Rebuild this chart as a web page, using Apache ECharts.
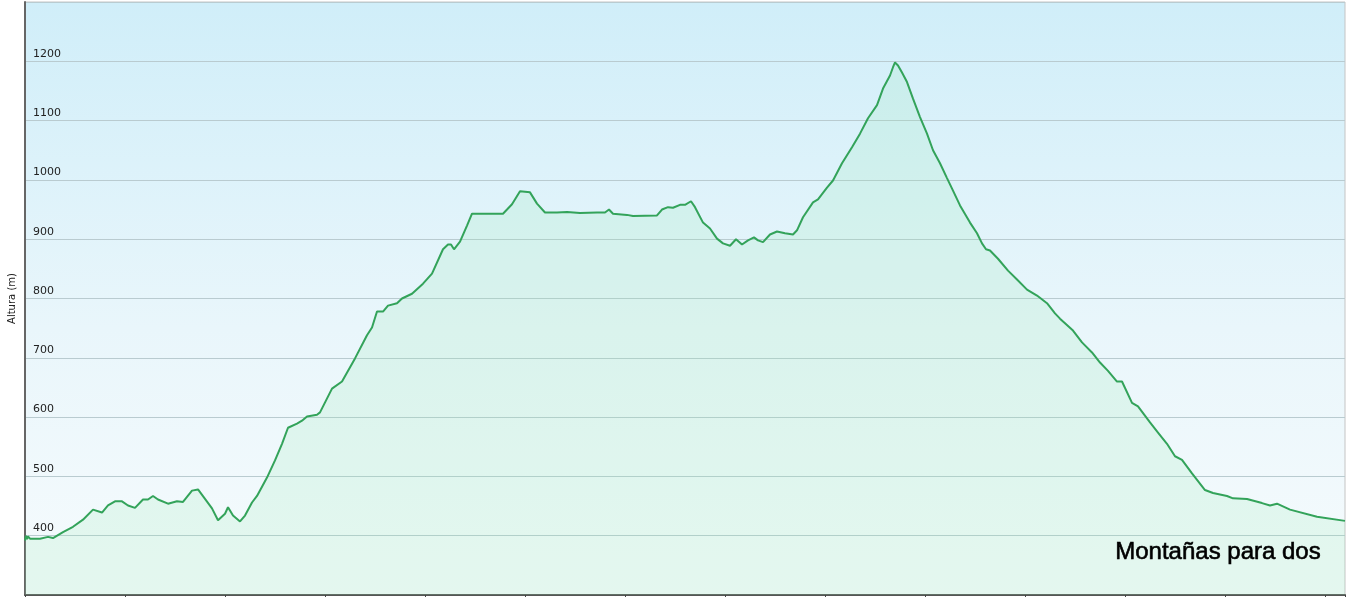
<!DOCTYPE html>
<html>
<head>
<meta charset="utf-8">
<script src="https://cdn.jsdelivr.net/npm/echarts@6/dist/echarts.min.js"></script>
<style>
html,body{margin:0;padding:0;background:#fff;}
#chart{width:1354px;height:597px;}
</style>
</head>
<body>
<div id="chart"></div>
<script>
const distancia = [0,0.01,0.02,0.03,0.05,0.15,0.23,0.28,0.38,0.48,0.58,0.68,0.77,0.83,0.90,0.97,1.03,1.10,1.18,1.23,1.28,1.33,1.43,1.52,1.58,1.67,1.73,1.80,1.87,1.93,2.00,2.03,2.08,2.15,2.20,2.27,2.32,2.42,2.50,2.57,2.63,2.72,2.77,2.82,2.92,2.95,3.07,3.17,3.30,3.42,3.47,3.52,3.58,3.63,3.72,3.77,3.87,3.98,4.07,4.18,4.23,4.26,4.29,4.35,4.42,4.47,4.52,4.78,4.82,4.87,4.95,5.05,5.12,5.20,5.32,5.42,5.55,5.72,5.80,5.84,5.88,6.02,6.08,6.32,6.37,6.43,6.48,6.55,6.60,6.66,6.70,6.78,6.85,6.92,6.98,7.05,7.11,7.17,7.23,7.29,7.33,7.38,7.45,7.52,7.60,7.68,7.72,7.78,7.88,7.93,8.02,8.08,8.17,8.27,8.35,8.43,8.52,8.58,8.65,8.68,8.70,8.73,8.77,8.82,8.88,8.95,9.02,9.08,9.15,9.22,9.28,9.35,9.45,9.52,9.57,9.61,9.65,9.73,9.83,9.92,10.02,10.12,10.22,10.30,10.35,10.48,10.57,10.67,10.75,10.83,10.92,10.97,11.07,11.13,11.25,11.33,11.42,11.50,11.57,11.67,11.80,11.88,12.02,12.08,12.22,12.37,12.45,12.52,12.65,12.92,13.20];
const altura = [392,400,394,399,395,395,398,396,406,415,427,444,439,451,458,458,451,447,461,461,467,461,454,458,457,476,478,462,446,426,437,448,434,424,434,456,467,498,527,555,582,589,594,601,604,608,648,660,699,738,751,778,778,788,792,800,808,825,842,883,891,891,883,896,923,943,943,943,950,959,981,979,960,945,945,946,944,945,945,950,943,941,939,940,950,954,953,958,958,964,954,928,918,901,893,889,900,891,898,903,898,895,908,913,910,908,915,937,962,967,987,999,1028,1055,1078,1104,1126,1154,1176,1190,1198,1193,1181,1165,1137,1106,1078,1050,1028,1003,982,957,928,910,893,883,881,867,847,832,815,805,792,775,766,746,726,709,692,678,660,660,624,618,591,574,555,534,528,505,477,472,467,463,462,455,451,454,444,432,425];
const yTicks = [400,500,600,700,800,900,1000,1100,1200];
const yAxisName = 'Altura (m)';
const watermark = 'Montañas para dos';

const data = distancia.map((d, i) => [d, altura[i]]);

const chart = echarts.init(document.getElementById('chart'), null, {renderer: 'canvas'});
chart.setOption({
  animation: false,
  backgroundColor: '#ffffff',
  grid: {
    left: 25, right: 9, top: 2, bottom: 2,
    containLabel: false,
    outerBoundsMode: 'none',
    show: true,
    borderColor: '#c4c4c4',
    borderWidth: 1,
    backgroundColor: {
      type: 'linear', x: 0, y: 0, x2: 0, y2: 1,
      colorStops: [
        {offset: 0, color: '#d0eef9'},
        {offset: 0.55, color: '#e9f6fb'},
        {offset: 1, color: '#f6fbfd'}
      ]
    }
  },
  xAxis: {
    type: 'value',
    min: 0, max: 13.2, interval: 1,
    axisLine: {show: true, lineStyle: {color: '#555', width: 2}},
    axisTick: {show: true, length: 3, lineStyle: {color: '#444'}},
    axisLabel: {show: false},
    splitLine: {show: false}
  },
  yAxis: {
    type: 'value',
    min: 300, max: 1300, interval: 100,
    name: yAxisName,
    nameLocation: 'middle',
    nameGap: 4,
    nameTextStyle: {fontFamily: 'DejaVu Sans', fontSize: 10, color: '#222'},
    axisLine: {show: true, lineStyle: {color: '#666', width: 2}},
    axisTick: {show: false},
    axisLabel: {
      inside: true,
      margin: 8,
      verticalAlign: 'bottom',
      padding: [0, 0, 2, 0],
      fontFamily: 'DejaVu Sans',
      fontSize: 11,
      color: '#222',
      formatter: v => (yTicks.indexOf(v) >= 0 ? String(v) : '')
    },
    splitLine: {show: true, lineStyle: {color: '#b9cbd0', width: 1}}
  },
  series: [{
    type: 'line',
    data: data,
    showSymbol: false,
    smooth: false,
    lineStyle: {color: '#33a35a', width: 2},
    areaStyle: {color: 'rgba(150, 235, 175, 0.26)'},
    z: 3
  }],
  graphic: [{
    type: 'text',
    right: 33,
    top: 540,
    style: {
      text: watermark,
      font: '24px "Liberation Sans", Arial, sans-serif',
      fill: '#000',
      stroke: '#000',
      lineWidth: 0.6
    },
    z: 10
  }]
});
</script>
</body>
</html>
